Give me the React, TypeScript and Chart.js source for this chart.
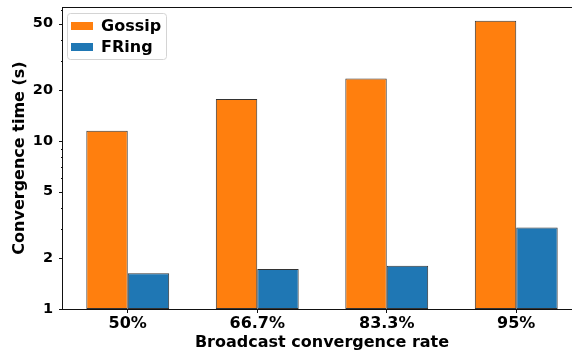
import { useEffect, useRef } from 'react';
import { Chart, registerables } from 'chart.js';

Chart.register(...registerables);

const rates = ['50%', '66.7%', '83.3%', '95%'];
const gossipSeconds = [11.5, 17.8, 23.6, 52];
const fringSeconds = [1.63, 1.73, 1.81, 3.06];
const yLabelTicks = [1, 2, 5, 10, 20, 50];
const yMinorTicks = [3, 4, 6, 7, 8, 9, 30, 40, 60];
const yMin = 1;
const yMax = 62.8;

const FONT = "'DejaVu Sans', sans-serif";
const EDGE = 'rgba(0,0,0,0.8)';

// Axis frame plus major/minor tick marks on the log axis
const framePlugin = {
  id: 'frame',
  afterDraw(chart: any) {
    const { ctx, chartArea: a, scales } = chart;
    const y = scales.y;
    ctx.save();
    ctx.strokeStyle = '#111';
    ctx.lineWidth = 1;
    ctx.beginPath();
    for (const v of yLabelTicks) {
      const p = Math.round(y.getPixelForValue(v)) + 0.5;
      ctx.moveTo(a.left - 4, p);
      ctx.lineTo(a.left, p);
    }
    for (const v of yMinorTicks) {
      if (v > yMax) continue;
      const p = Math.round(y.getPixelForValue(v)) + 0.5;
      ctx.moveTo(a.left - 2, p);
      ctx.lineTo(a.left, p);
    }
    ctx.stroke();
    ctx.strokeRect(
      Math.round(a.left) - 0.5,
      Math.round(a.top) + 0.5,
      Math.round(a.right - a.left) + 1,
      Math.round(a.bottom - a.top)
    );
    ctx.restore();
  },
};

// Framed legend in the upper-left corner of the plot
const legendPlugin = {
  id: 'boxLegend',
  afterDraw(chart: any) {
    const { ctx, chartArea: a } = chart;
    const bx = a.left + 4;
    const by = a.top + 6;
    const bw = 99;
    const bh = 46;
    ctx.save();
    ctx.beginPath();
    if (ctx.roundRect) ctx.roundRect(bx + 0.5, by + 0.5, bw, bh, 3);
    else ctx.rect(bx + 0.5, by + 0.5, bw, bh);
    ctx.fillStyle = 'rgba(255,255,255,0.85)';
    ctx.fill();
    ctx.strokeStyle = '#d4d4d4';
    ctx.lineWidth = 1;
    ctx.stroke();
    ctx.font = `bold 16px ${FONT}`;
    ctx.textBaseline = 'alphabetic';
    ctx.textAlign = 'left';
    chart.data.datasets.forEach((ds: any, i: number) => {
      const rowY = by + i * 21;
      ctx.fillStyle = ds.backgroundColor;
      ctx.fillRect(bx + 4, rowY + 9, 22, 8);
      ctx.fillStyle = '#000';
      ctx.fillText(ds.label, bx + 34, rowY + 17.5);
    });
    ctx.restore();
  },
};

export default function App() {
  const canvasRef = useRef<HTMLCanvasElement>(null);

  useEffect(() => {
    const canvas = canvasRef.current;
    if (!canvas) return;
    const chart = new Chart(canvas, {
      type: 'bar',
      data: {
        labels: rates,
        datasets: [
          {
            label: 'Gossip',
            data: gossipSeconds,
            backgroundColor: '#ff7f0e',
            borderColor: EDGE,
            borderWidth: 1,
            borderSkipped: false,
          },
          {
            label: 'FRing',
            data: fringSeconds,
            backgroundColor: '#1f77b4',
            borderColor: EDGE,
            borderWidth: 1,
            borderSkipped: false,
          },
        ],
      },
      options: {
        responsive: false,
        animation: false,
        devicePixelRatio: 1,
        layout: { padding: { top: 7, left: 0, right: 0, bottom: 0 } },
        datasets: { bar: { categoryPercentage: 0.64, barPercentage: 1 } },
        plugins: {
          legend: { display: false },
          tooltip: { enabled: false },
        },
        scales: {
          x: {
            type: 'category',
            offset: true,
            grid: {
              display: true,
              drawOnChartArea: false,
              drawTicks: true,
              tickLength: 4,
              offset: false,
              color: '#111',
              tickColor: '#111',
            },
            border: { display: false },
            ticks: {
              color: '#000',
              font: { family: FONT, size: 16, weight: 'bold' },
              padding: 1,
              maxRotation: 0,
            },
            title: {
              display: true,
              text: 'Broadcast convergence rate',
              color: '#000',
              font: { family: FONT, size: 16, weight: 'bold', lineHeight: 1.2 },
              padding: { top: 0, bottom: 0 },
            },
            afterFit: (s: any) => {
              s.height = 43;
              s.paddingLeft = 0;
              s.paddingRight = 0;
            },
          },
          y: {
            type: 'logarithmic',
            min: yMin,
            max: yMax,
            grid: { display: false, drawTicks: false },
            border: { display: false },
            ticks: {
              color: '#000',
              font: { family: FONT, size: 14.5, weight: 'bold' },
              padding: 10,
              callback: (v: any) => String(v),
            },
            afterBuildTicks: (s: any) => {
              s.ticks = yLabelTicks.map((v) => ({ value: v }));
            },
            title: {
              display: true,
              text: 'Convergence time (s)',
              color: '#000',
              font: { family: FONT, size: 16, weight: 'bold', lineHeight: 1.2 },
              padding: { top: 10, bottom: 0 },
            },
            afterFit: (s: any) => {
              s.width = 63;
              s.paddingTop = 0;
              s.paddingBottom = 0;
            },
          },
        },
      },
      plugins: [framePlugin, legendPlugin],
    } as any);
    return () => chart.destroy();
  }, []);

  return (
    <div
      style={{
        position: 'fixed',
        left: 0,
        top: 0,
        width: 572,
        height: 352,
        overflow: 'hidden',
        background: '#fff',
      }}
    >
      <canvas ref={canvasRef} width={581} height={352} style={{ display: 'block' }} />
    </div>
  );
}
